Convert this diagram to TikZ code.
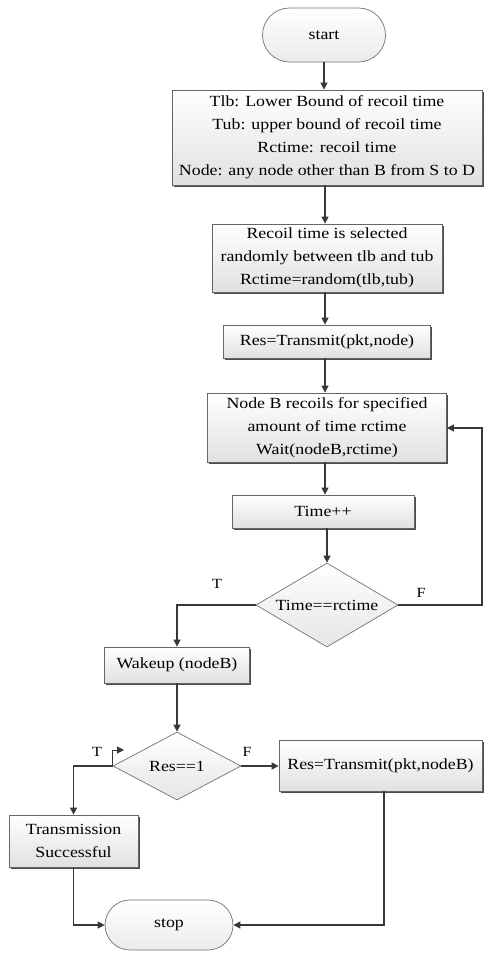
\documentclass[tikz,border=0pt]{standalone}
\usepackage{fontspec}
\setmainfont{Liberation Serif}[FakeStretch=1.15]
\usetikzlibrary{shapes.geometric,shapes.misc,shadows,arrows.meta}
\begin{document}
\begin{tikzpicture}[x=1pt,y=-1pt,
  txt/.style={font=\fontsize{15.5}{23}\selectfont, text=black, align=center},
  box/.style={txt, draw=black!60, line width=0.8pt, rectangle, top color=white, bottom color=black!12, inner sep=0pt,
     drop shadow={shadow xshift=1.8pt, shadow yshift=-1.8pt, fill=black!70, opacity=1}},
  term/.style={txt, rounded rectangle, draw=black!55, line width=0.7pt, top color=white, bottom color=black!8, inner sep=0pt},
  dec/.style={txt, diamond, draw=black!55, line width=0.7pt, top color=white, bottom color=black!10, inner sep=0pt},
  arr/.style={draw=black!78, line width=1.3pt, -{Triangle[length=7pt,width=7pt]}},
  lab/.style={font=\fontsize{14}{16}\selectfont, text=black}]
\useasboundingbox (0,0) rectangle (483,953);
\fill[white] (0,0) rectangle (483,953);

\node[term, minimum width=123pt, minimum height=54pt] (start) at (324,35) {start};
\node[box, minimum width=310pt, minimum height=95pt] (b1) at (327,137.5)
  {Tlb: Lower Bound of recoil time\\Tub: upper bound of recoil time\\Rctime: recoil time\\Node: any node other than B from S to D};
\node[box, minimum width=230pt, minimum height=68pt] (b2) at (327,258)
  {Recoil time is selected\\randomly between tlb and tub\\Rctime=random(tlb,tub)};
\node[box, minimum width=207pt, minimum height=33pt] (b3) at (327,341.5) {Res=Transmit(pkt,node)};
\node[box, minimum width=239pt, minimum height=69pt] (b4) at (327,427.5)
  {Node B recoils for specified\\amount of time rctime\\Wait(nodeB,rctime)};
\node[box, minimum width=182pt, minimum height=33pt] (b5) at (323,511.5) {Time++};
\node[dec, shape aspect=1.7, minimum width=142pt, minimum height=84pt] (d1) at (327,605) {Time==rctime};
\node[box, minimum width=145pt, minimum height=36pt] (wake) at (177,665) {Wakeup (nodeB)};
\node[dec, shape aspect=1.9, minimum width=128pt, minimum height=68pt] (d2) at (177,766) {Res==1};
\node[box, minimum width=129pt, minimum height=52pt] (ts) at (73.5,841) {Transmission\\Successful};
\node[box, minimum width=203pt, minimum height=51pt] (rt) at (380.5,766) {Res=Transmit(pkt,nodeB)};
\node[term, minimum width=128pt, minimum height=50pt] (stop) at (169,925) {stop};

\coordinate (fr1) at (482,605);
\coordinate (fr2) at (482,428);
\coordinate (rb) at (384,791);
\coordinate (sm) at (124,750);

\draw[arr] (start.south) -- (start.south |- b1.north);
\draw[arr] (b1.south -| 325,0) -- (b2.north -| 325,0);
\draw[arr] (b2.south -| 325,0) -- (b3.north -| 325,0);
\draw[arr] (b3.south -| 325,0) -- (b4.north -| 325,0);
\draw[arr] (b4.south -| 325,0) -- (b5.north -| 325,0);
\draw[arr] (b5.south -| 327,0) -- (d1.north);
\draw[arr] (d1.west) -| (wake.north);
\draw[arr] (d1.east) -- (fr1) -- (fr2) -- (b4.east |- fr2);
\draw[arr] (wake.south) -- (d2.north);
\draw[arr] (d2.west) -| (ts.north);
\draw[arr] (d2.east) -- (rt.west);
\draw[arr, line width=1pt] (d2.west) |- (sm);
\draw[arr] (ts.south) |- (stop.west);
\draw[arr] (rb) |- (stop.east);

\node[lab] (lt1) at (217,584) {T};
\node[lab] (lf1) at (421,593) {F};
\node[lab] (lt2) at (97,752) {T};
\node[lab] (lf2) at (247,752) {F};
\end{tikzpicture}
\end{document}
